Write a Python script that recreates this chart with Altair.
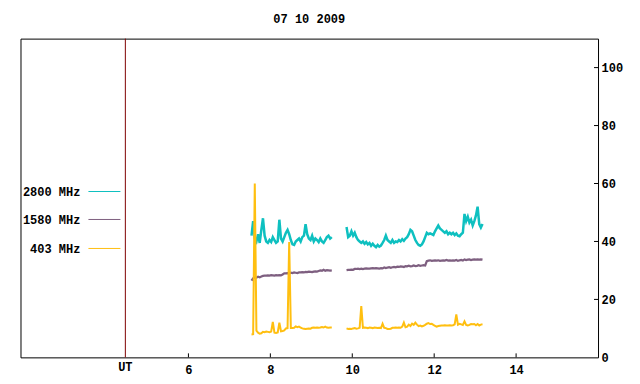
import altair as alt
import pandas as pd

title_text = "07 10 2009"
series = ["2800 MHz", "1580 MHz", "403 MHz"]
colors = ["#0ec0c0", "#7e5f80", "#ffbf10"]
x_ticks = [6, 8, 10, 12, 14]
y_ticks = [0, 20, 40, 60, 80, 100]
ut_label = "UT"
ut_pos = 4.46

# sample times: segment start (UT hours) and sampling step
seg_starts = [7.54, 9.86]
step = 0.04

cyan_a = [42, 47, 41, 40, 42.5, 39.5, 44, 48, 42, 40, 39.5, 40.5, 39.8, 41.5, 40.5, 39.5,
          40, 47.5, 41, 40, 41.5, 43, 44, 42.5, 40.5, 39, 38.8, 40, 40.5, 41, 40, 41.5,
          42, 46, 42.5, 41, 40.5, 42, 40, 41, 40.5, 39.8, 41, 40, 39.5, 40.5, 41.5, 42, 41, 41.5]
cyan_b = [45, 41.5, 42, 43.5, 42, 43, 41.5, 40.5, 40, 39.5, 40, 39.2, 39.8, 39, 39.5, 38.5,
          39.2, 38.5, 38, 38.8, 38.2, 38.6, 39.5, 40.5, 42, 40.5, 40, 39.5, 40.5, 39.5, 40, 39.8,
          40.5, 40, 40.8, 40.2, 41, 41.5, 42.5, 44, 43.5, 42, 40.5, 39.5, 38.8, 38.5, 39, 40,
          41.5, 43, 42.5, 42.8, 42.5, 42.2, 43.5, 44.5, 45.5, 44.5, 44, 43.5, 43, 43.5, 42.5, 43,
          42.5, 43, 42.2, 42.8, 42, 41.8, 42.5, 43, 49.5, 47, 48.5, 46.5, 47.5, 45.5, 47, 49,
          52, 46, 44.8, 46]
purple_a = [26.5, 27.3, 27.6, 27.5, 27.8, 27.6, 27.9, 28.1, 28.2, 28.2, 28.3, 28.2, 28.4, 28.3,
            28.2, 28.4, 28.3, 28.4, 28.3, 28.6, 29.0, 29.0, 29.1, 29.0, 29.2, 29.1, 29.3, 29.2,
            29.1, 29.3, 29.3, 29.4, 29.3, 29.5, 29.4, 29.6, 29.5, 29.4, 29.6, 29.7, 29.6, 29.8,
            30.0, 29.9, 30.2, 29.9, 30.1, 30.0, 29.9, 30.0]
purple_b = [30.1, 30.2, 30.2, 30.3, 30.2, 30.5, 30.5, 30.6, 30.5, 30.6, 30.5, 30.6, 30.7, 30.6,
            30.6, 30.7, 30.8, 30.7, 30.8, 30.7, 30.6, 30.8, 30.7, 31.0, 30.8, 31.0, 31.1, 30.9,
            31.1, 31.2, 31.1, 31.3, 31.2, 31.4, 31.3, 31.2, 31.5, 31.4, 31.6, 31.4, 31.5, 31.7,
            31.5, 31.6, 31.8, 31.6, 31.7, 31.8, 31.7, 33.2, 33.4, 33.5, 33.3, 33.4, 33.5, 33.4,
            33.5, 33.3, 33.4, 33.5, 33.4, 33.6, 33.4, 33.5, 33.4, 33.5, 33.4, 33.6, 33.3, 33.5,
            33.6, 33.4, 33.8, 33.6, 33.7, 33.8, 33.6, 33.7, 33.8, 33.7, 33.8, 33.7, 33.8, 33.7]
yellow_a = [7.9, 8.0, 60, 9.2, 8.5, 8.2, 8.3, 8.8, 8.7, 8.9, 8.8, 8.7, 8.9, 12.2, 8.5, 8.4,
            8.6, 12.0, 9.0, 9.1, 9.3, 10.0, 10.1, 39.8, 10.1, 10.1, 10.2, 10.7, 10.4, 10.6, 10.3,
            10.0, 9.9, 9.8, 9.9, 10.0, 9.9, 10.2, 10.3, 10.2, 10.3, 10.2, 10.3, 10.5, 10.3, 10.6,
            10.3, 10.2, 10.3, 10.3]
yellow_b = [10.0, 9.8, 9.9, 9.8, 10.0, 10.1, 9.9, 10.0, 10.2, 17.7, 10.2, 10.3, 10.2, 10.1,
            10.3, 10.2, 10.1, 10.3, 10.2, 10.1, 10.2, 10.1, 11.6, 10.2, 10.1, 9.8, 9.8, 9.9,
            10.2, 10.2, 10.3, 10.2, 10.3, 10.2, 10.6, 12.0, 10.4, 10.6, 11.3, 10.8, 11.6, 11.2,
            12.0, 11.3, 10.8, 11.0, 10.7, 10.9, 11.2, 11.6, 11.8, 11.5, 11.6, 11.2, 10.9, 10.6,
            10.8, 10.9, 11.0, 11.0, 11.1, 11.0, 11.0, 11.1, 11.0, 11.1, 11.4, 14.8, 11.3, 11.6,
            11.4, 11.2, 12.4, 11.2, 11.0, 11.2, 11.5, 11.4, 11.5, 11.1, 11.5, 11.0, 11.3, 11.4]

series_data = {
    series[0]: [cyan_a, cyan_b],
    series[1]: [purple_a, purple_b],
    series[2]: [yellow_a, yellow_b],
}

rows = []
for name, segs in series_data.items():
    for k, vals in enumerate(segs):
        for i, v in enumerate(vals):
            rows.append({"t": seg_starts[k] + step * i, "v": v, "s": name,
                         "seg": f"{name}-{k}", "o": series.index(name)})
df = pd.DataFrame(rows)

FONT = "Liberation Mono"
W, H = 578, 319

xs = alt.Scale(domain=[1.9, 16], nice=False, zero=False)
ys = alt.Scale(domain=[0, 110], nice=False, zero=False)
x_axis = alt.Axis(values=x_ticks, tickSize=0, labelPadding=7, domain=False, grid=False,
                  title=None, labelFont=FONT, labelFontSize=12, labelFontWeight="bold",
                  labelColor="black", labelFlush=False)
y_axis = alt.Axis(orient="right", values=y_ticks, tickSize=0, labelPadding=3, domain=False,
                  grid=False, title=None, labelFont=FONT, labelFontSize=12,
                  labelFontWeight="bold", labelColor="black", labelAlign="left")

lines = alt.Chart(df).mark_line().encode(
    x=alt.X("t:Q", scale=xs, axis=x_axis),
    y=alt.Y("v:Q", scale=ys, axis=y_axis),
    color=alt.Color("s:N", scale=alt.Scale(domain=series, range=colors), legend=None),
    strokeWidth=alt.StrokeWidth("s:N", scale=alt.Scale(domain=series, range=[2.5, 2.0, 1.5]),
                                legend=None),
    detail="seg:N",
    order="o:Q",
)

ut_rule = alt.Chart(pd.DataFrame({"t": [ut_pos]})).mark_rule(
    color="#800000", strokeWidth=1).encode(
    x=alt.X("t:Q", scale=xs, axis=x_axis),
    y=alt.value(0), y2=alt.value(H))

ut_text = alt.Chart(pd.DataFrame({"t": [ut_pos], "lab": [ut_label]})).mark_text(
    font=FONT, fontSize=12, fontWeight="bold", color="black", baseline="middle").encode(
    x=alt.X("t:Q", scale=xs, axis=x_axis), y=alt.value(H + 10), text="lab:N")

xtick_layer = alt.Chart(pd.DataFrame({"t": x_ticks})).mark_rule(color="black").encode(
    x=alt.X("t:Q", scale=xs, axis=x_axis), y=alt.value(H), y2=alt.value(H - 4))

ytick_layer = alt.Chart(pd.DataFrame({"v": y_ticks[1:]})).mark_rule(color="black").encode(
    y=alt.Y("v:Q", scale=ys, axis=y_axis), x=alt.value(W), x2=alt.value(W - 4))

title_layer = alt.Chart(pd.DataFrame({"lab": [title_text]})).mark_text(
    font=FONT, fontSize=12, fontWeight="bold", color="black", baseline="middle").encode(
    x=alt.value(W / 2), y=alt.value(-20), text="lab:N")

legend_layers = []
for i, (name, col) in enumerate(zip(series, colors)):
    yy = [154, 182, 211][i]
    legend_layers.append(
        alt.Chart(pd.DataFrame({"lab": [name]})).mark_text(
            font=FONT, fontSize=12, fontWeight="bold", color="black",
            align="right", baseline="middle").encode(
            x=alt.value(60), y=alt.value(yy), text="lab:N"))
    legend_layers.append(
        alt.Chart(pd.DataFrame({"lab": [name]})).mark_rule(color=col, strokeWidth=1).encode(
            x=alt.value(68), x2=alt.value(100), y=alt.value(yy - 1)))

chart = alt.layer(
    ut_rule, lines, xtick_layer, ytick_layer, ut_text, title_layer, *legend_layers
).properties(
    width=W, height=H,
    autosize=alt.AutoSizeParams(type="none"),
    padding={"left": 12.5, "top": 30.5, "right": 34, "bottom": 20.5},
).configure_view(stroke="black", strokeWidth=1).configure_axis(grid=False)

chart.save("out.html", embed_options={"renderer": "svg", "actions": False})
